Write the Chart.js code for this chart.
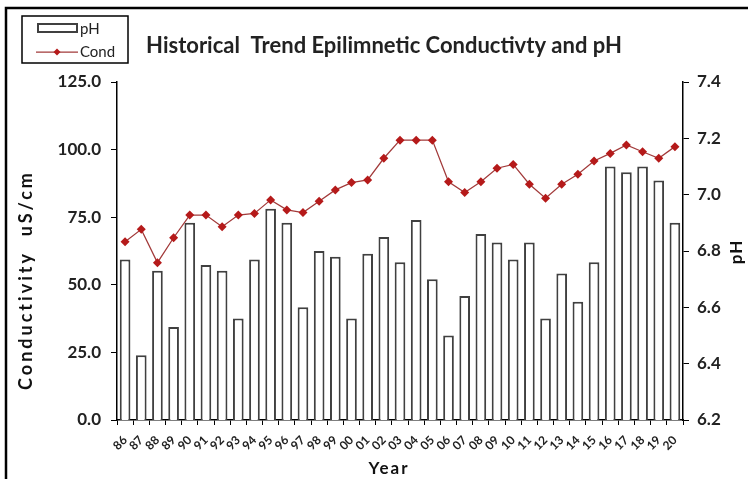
<!DOCTYPE html>
<html>
<head>
<meta charset="utf-8">
<script src="https://cdn.jsdelivr.net/npm/chart.js@4.4.1/dist/chart.umd.min.js"></script>
<style>
  html, body { margin: 0; padding: 0; background: #ffffff; }
  #wrap { position: relative; width: 748px; height: 479px; }
</style>
</head>
<body>
<div id="wrap"><canvas id="chart" width="748" height="479"></canvas></div>
<script>
// Survey years (two-digit labels, 1986–2020)
const years = ['86','87','88','89','90','91','92','93','94','95','96','97','98','99',
               '00','01','02','03','04','05','06','07','08','09','10','11','12','13',
               '14','15','16','17','18','19','20'];

// Epilimnetic pH (right axis)
const phValues = [6.77, 6.43, 6.73, 6.53, 6.90, 6.75, 6.73, 6.56, 6.77, 6.95, 6.90, 6.60,
                  6.80, 6.78, 6.56, 6.79, 6.85, 6.76, 6.91, 6.70, 6.50, 6.64, 6.86, 6.83,
                  6.77, 6.83, 6.56, 6.72, 6.62, 6.76, 7.10, 7.08, 7.10, 7.05, 6.90];

// Epilimnetic conductivity, uS/cm (left axis)
const condValues = [65.9, 70.5, 58.2, 67.4, 75.8, 75.8, 71.5, 75.8, 76.4, 81.4, 77.7, 76.7,
                    80.9, 85.1, 87.8, 88.8, 96.8, 103.5, 103.5, 103.5, 88.1, 84.1, 88.1, 93.1,
                    94.5, 87.2, 82.0, 87.2, 90.9, 95.8, 98.6, 101.7, 99.2, 96.8, 101.1];

// Axis tick values
const condTicks = [0, 25, 50, 75, 100, 125];
const phTicks = [6.2, 6.4, 6.6, 6.8, 7.0, 7.2, 7.4];

const FONT = 'Lato, "Open Sans", "Liberation Sans", sans-serif';
const BAR_EDGE = '#404040';
const LINE_COLOR = '#a23a3a';
const MARK_COLOR = '#b51a1a';

// Frame, legend box and axis titles
const decorations = {
  id: 'decorations',
  beforeDraw(chart) {
    const ctx = chart.ctx;
    ctx.save();
    ctx.fillStyle = '#ffffff';
    ctx.fillRect(0, 0, chart.width, chart.height);
    ctx.strokeStyle = '#000000';
    ctx.lineWidth = 2.5;
    ctx.beginPath();
    ctx.moveTo(6, chart.height + 2);
    ctx.lineTo(6, 8);
    ctx.lineTo(chart.width + 2, 8);
    ctx.stroke();
    ctx.restore();
  },
  afterDraw(chart) {
    const ctx = chart.ctx;
    const ds = chart.data.datasets;
    const barSet = ds.find(d => d.type === 'bar');
    const lineSet = ds.find(d => d.type === 'line');
    ctx.save();

    // legend box
    ctx.strokeStyle = '#000000';
    ctx.lineWidth = 1.5;
    ctx.strokeRect(22, 16, 106, 47);
    ctx.strokeStyle = BAR_EDGE;
    ctx.lineWidth = 2;
    ctx.strokeRect(38, 24, 39, 8);
    ctx.strokeStyle = LINE_COLOR;
    ctx.lineWidth = 1.25;
    ctx.beginPath();
    ctx.moveTo(36, 52);
    ctx.lineTo(78, 52);
    ctx.stroke();
    ctx.fillStyle = MARK_COLOR;
    ctx.beginPath();
    ctx.moveTo(57, 48.5);
    ctx.lineTo(60.5, 52);
    ctx.lineTo(57, 55.5);
    ctx.lineTo(53.5, 52);
    ctx.closePath();
    ctx.fill();
    ctx.fillStyle = '#222222';
    ctx.font = '15px ' + FONT;
    ctx.textAlign = 'left';
    ctx.textBaseline = 'middle';
    ctx.fillText(barSet.label, 80, 29);
    ctx.fillText(lineSet.label, 80, 52);

    // axis titles
    ctx.fillStyle = '#111111';
    ctx.font = 'bold 18px ' + FONT;
    ctx.textAlign = 'center';
    ctx.textBaseline = 'middle';
    ctx.letterSpacing = '3px';
    ctx.save();
    ctx.translate(26, 280);
    ctx.rotate(-Math.PI / 2);
    ctx.fillText('Conductivity  uS/cm', 0, 0);
    ctx.restore();
    ctx.letterSpacing = '1px';
    ctx.font = 'bold 17px ' + FONT;
    ctx.save();
    ctx.translate(737, 252);
    ctx.rotate(-Math.PI / 2);
    ctx.fillText('pH', 0, 0);
    ctx.restore();
    ctx.letterSpacing = '2px';
    ctx.fillText('Year', 389, 469);
    ctx.letterSpacing = '0px';
    ctx.restore();
  }
};

const tickFont = { family: FONT, size: 17, weight: 'bold' };

new Chart(document.getElementById('chart'), {
  data: {
    labels: years,
    datasets: [
      {
        type: 'line',
        label: 'Cond',
        data: condValues,
        yAxisID: 'y',
        order: 0,
        borderColor: LINE_COLOR,
        borderWidth: 1.25,
        pointStyle: 'rectRot',
        pointRadius: 4.5,
        pointBackgroundColor: MARK_COLOR,
        pointBorderColor: MARK_COLOR,
        pointBorderWidth: 0,
        tension: 0
      },
      {
        type: 'bar',
        label: 'pH',
        data: phValues,
        yAxisID: 'y1',
        order: 1,
        backgroundColor: '#ffffff',
        borderColor: BAR_EDGE,
        borderWidth: 2,
        categoryPercentage: 1,
        barPercentage: 0.66
      }
    ]
  },
  options: {
    responsive: false,
    animation: false,
    devicePixelRatio: 1,
    layout: { padding: { left: 20, right: 0, top: 0, bottom: 0 } },
    plugins: {
      legend: { display: false },
      tooltip: { enabled: false },
      title: {
        display: true,
        text: 'Historical  Trend Epilimnetic Conductivty and pH',
        color: '#222222',
        font: { family: FONT, size: 22, weight: 'bold', lineHeight: 1.2 },
        padding: { top: 33, bottom: 22.6 }
      }
    },
    scales: {
      x: {
        type: 'category',
        offset: true,
        grid: { display: true, drawOnChartArea: false, drawTicks: true, tickLength: 5,
                color: '#000000', lineWidth: 1, offset: true },
        border: { display: true, color: '#000000', width: 1.5 },
        ticks: { autoSkip: false, minRotation: 45, maxRotation: 45, padding: 8,
                 color: '#222222', font: { family: FONT, size: 12, weight: 'bold' } },
        afterFit(scale) { scale.height = 59; }
      },
      y: {
        type: 'linear',
        position: 'left',
        min: 0,
        max: 125,
        afterBuildTicks(scale) { scale.ticks = condTicks.map(v => ({ value: v })); },
        grid: { display: true, drawOnChartArea: false, drawTicks: true, tickLength: 6,
                color: '#000000', lineWidth: 1 },
        border: { display: true, color: '#000000', width: 1.5 },
        ticks: { color: '#222222', font: tickFont, padding: 10,
                 callback: v => Number(v).toFixed(1) },
        afterFit(scale) { scale.width = 97; }
      },
      y1: {
        type: 'linear',
        position: 'right',
        min: 6.2,
        max: 7.4,
        afterBuildTicks(scale) { scale.ticks = phTicks.map(v => ({ value: v })); },
        grid: { display: true, drawOnChartArea: false, drawTicks: true, tickLength: 6,
                color: '#000000', lineWidth: 1 },
        border: { display: true, color: '#000000', width: 1.5 },
        ticks: { color: '#222222', font: tickFont, padding: 8,
                 callback: v => Number(v).toFixed(1) },
        afterFit(scale) { scale.width = 65; }
      }
    }
  },
  plugins: [decorations]
});
</script>
</body>
</html>
